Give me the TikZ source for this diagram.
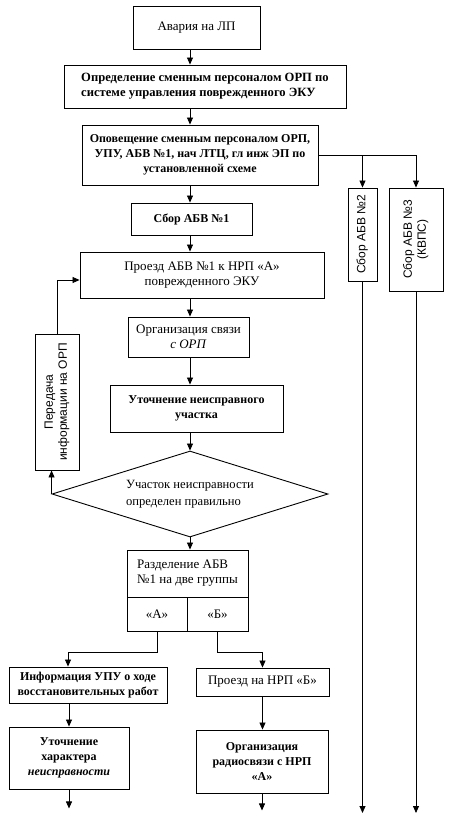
\documentclass[tikz,border=0pt]{standalone}
\usepackage{fontspec}
\usepackage{graphicx}
\setmainfont{Liberation Serif}
\newfontfamily\arialfont{Liberation Sans}
\usetikzlibrary{positioning, calc, arrows.meta, shapes.geometric}
\tikzset{
    blocknode/.style={
        draw, line width=0.9pt, align=center, inner sep=2pt, font=\fontsize{13}{15}\selectfont
    },
    boldnode/.style={
        blocknode, font=\fontsize{12}{15}\selectfont\bfseries
    },
    rotnode/.style={
        draw, line width=0.9pt, inner sep=0pt, font=\arialfont\fontsize{12}{14}\selectfont
    },
    decisionnode/.style={
        diamond, draw, line width=0.9pt, aspect=3.2, inner sep=0pt, align=left, font=\fontsize{12.6}{17}\selectfont
    },
    ptr/.style={
        -{Triangle[length=7pt,width=6pt]}, line width=0.8pt
    }
}
\newcommand{\rottext}[1]{\rotatebox{90}{\begin{tabular}{@{}c@{}}#1\end{tabular}}}

\begin{document}
\begin{tikzpicture}[x=1pt, y=-1pt]
    \useasboundingbox (0,0) rectangle (450,820);
    \coordinate (axis) at (190,0);
    \coordinate (bottomline) at (0,813);
    % main column
    \node[blocknode, minimum width=127pt, minimum height=43pt] (avaria) at (196.5,27.5) {Авария на ЛП};
    \node[boldnode, align=left, minimum width=282pt, minimum height=43pt, font=\fontsize{12.6}{15}\selectfont\bfseries] (opred) at (205,86.5) {Определение сменным персоналом ОРП по\\системе управления поврежденного ЭКУ};
    \node[boldnode, minimum width=236pt, minimum height=60pt] (opov) at (200,155) {Оповещение сменным персоналом ОРП,\\УПУ, АБВ №1, нач ЛТЦ, гл инж ЭП по\\установленной схеме};
    \node[boldnode, minimum width=121pt, minimum height=32pt] (sbor1) at (191.5,219) {Сбор АБВ №1};
    \node[blocknode, minimum width=244pt, minimum height=46pt] (proezd) at (202,275) {Проезд АБВ №1 к НРП «А»\\поврежденного ЭКУ};
    \node[blocknode, minimum width=121pt, minimum height=40pt] (svyaz) at (188.5,337) {Организация связи\\\textit{с ОРП}};
    \node[boldnode, minimum width=173pt, minimum height=47pt] (utoch) at (196.5,408.5) {Уточнение неисправного\\участка};
    \node[decisionnode, minimum width=276pt, minimum height=86pt] (check) at (190,494) {Участок неисправности\\определен правильно};
    \node[blocknode, align=left, minimum width=121pt, minimum height=47pt] (razdel) at (187.5,573.5) {Разделение АБВ\\№1 на две группы};
    \node[blocknode, minimum width=60pt, minimum height=34pt] (grA) at (157,614) {«А»};
    \node[blocknode, minimum width=61pt, minimum height=34pt] (grB) at (217.5,614) {«Б»};
    % feedback
    \node[rotnode, minimum width=44pt, minimum height=136pt] (peredacha) at (57,402) {\rottext{Передача\\информации на ОРП}};
    % other teams
    \node[rotnode, minimum width=29pt, minimum height=93pt] (sbor2) at (362.5,234.5) {\rottext{Сбор АБВ №2}};
    \node[rotnode, minimum width=54pt, minimum height=103pt] (sbor3) at (416,239.5) {\rottext{Сбор АБВ №3\\(КВПС)}};
    % two groups
    \node[boldnode, minimum width=158pt, minimum height=36pt] (info) at (88,685) {Информация УПУ о ходе\\восстановительных работ};
    \node[blocknode, minimum width=133pt, minimum height=28pt] (proezdB) at (262.5,682) {Проезд на НРП «Б»};
    \node[boldnode, minimum width=120pt, minimum height=62pt] (harakter) at (69,758) {Уточнение\\характера\\\textit{неисправности}};
    \node[boldnode, minimum width=132pt, minimum height=63pt] (radio) at (262,761.5) {Организация\\радиосвязи с НРП\\«А»};
    \coordinate[below=19pt of harakter.south] (outA);
    \coordinate[below=17pt of radio.south] (outB);

    \draw[ptr] (avaria.south -| axis) -- (opred.north -| axis);
    \draw[ptr] (opred.south -| axis) -- (opov.north -| axis);
    \draw[ptr] (opov.south -| axis) -- (sbor1.north -| axis);
    \draw[ptr] (sbor1.south -| axis) -- (proezd.north -| axis);
    \draw[ptr] (proezd.south -| axis) -- (svyaz.north -| axis);
    \draw[ptr] (svyaz.south -| axis) -- (utoch.north -| axis);
    \draw[ptr] (utoch.south -| check.north) -- (check.north);
    \draw[ptr] (check.south) -- (razdel.north -| check.south);
    \draw[ptr] (check.west) -- (check.west |- peredacha.south);
    \draw[ptr] (peredacha.north) |- ([yshift=-5pt]proezd.west);
    \draw[ptr] (opov.east) -| (sbor3.north);
    \draw[ptr] (opov.east -| sbor2.north) -- (sbor2.north);
    \draw[ptr] (sbor2.south) -- (sbor2.south |- bottomline);
    \draw[ptr] (sbor3.south) -- (sbor3.south |- bottomline);
    \draw[ptr] (grA.south) -- ++(0,21) -| ([xshift=-20pt]info.north);
    \draw[ptr] (grB.south) -- ++(0,21) -| (proezdB.north);
    \draw[ptr] (harakter.north |- info.south) -- (harakter.north);
    \draw[ptr] (proezdB.south) -- (proezdB.south |- radio.north);
    \draw[ptr] (harakter.south) -- (outA);
    \draw[ptr] (radio.south) -- (outB);
\end{tikzpicture}
\end{document}
